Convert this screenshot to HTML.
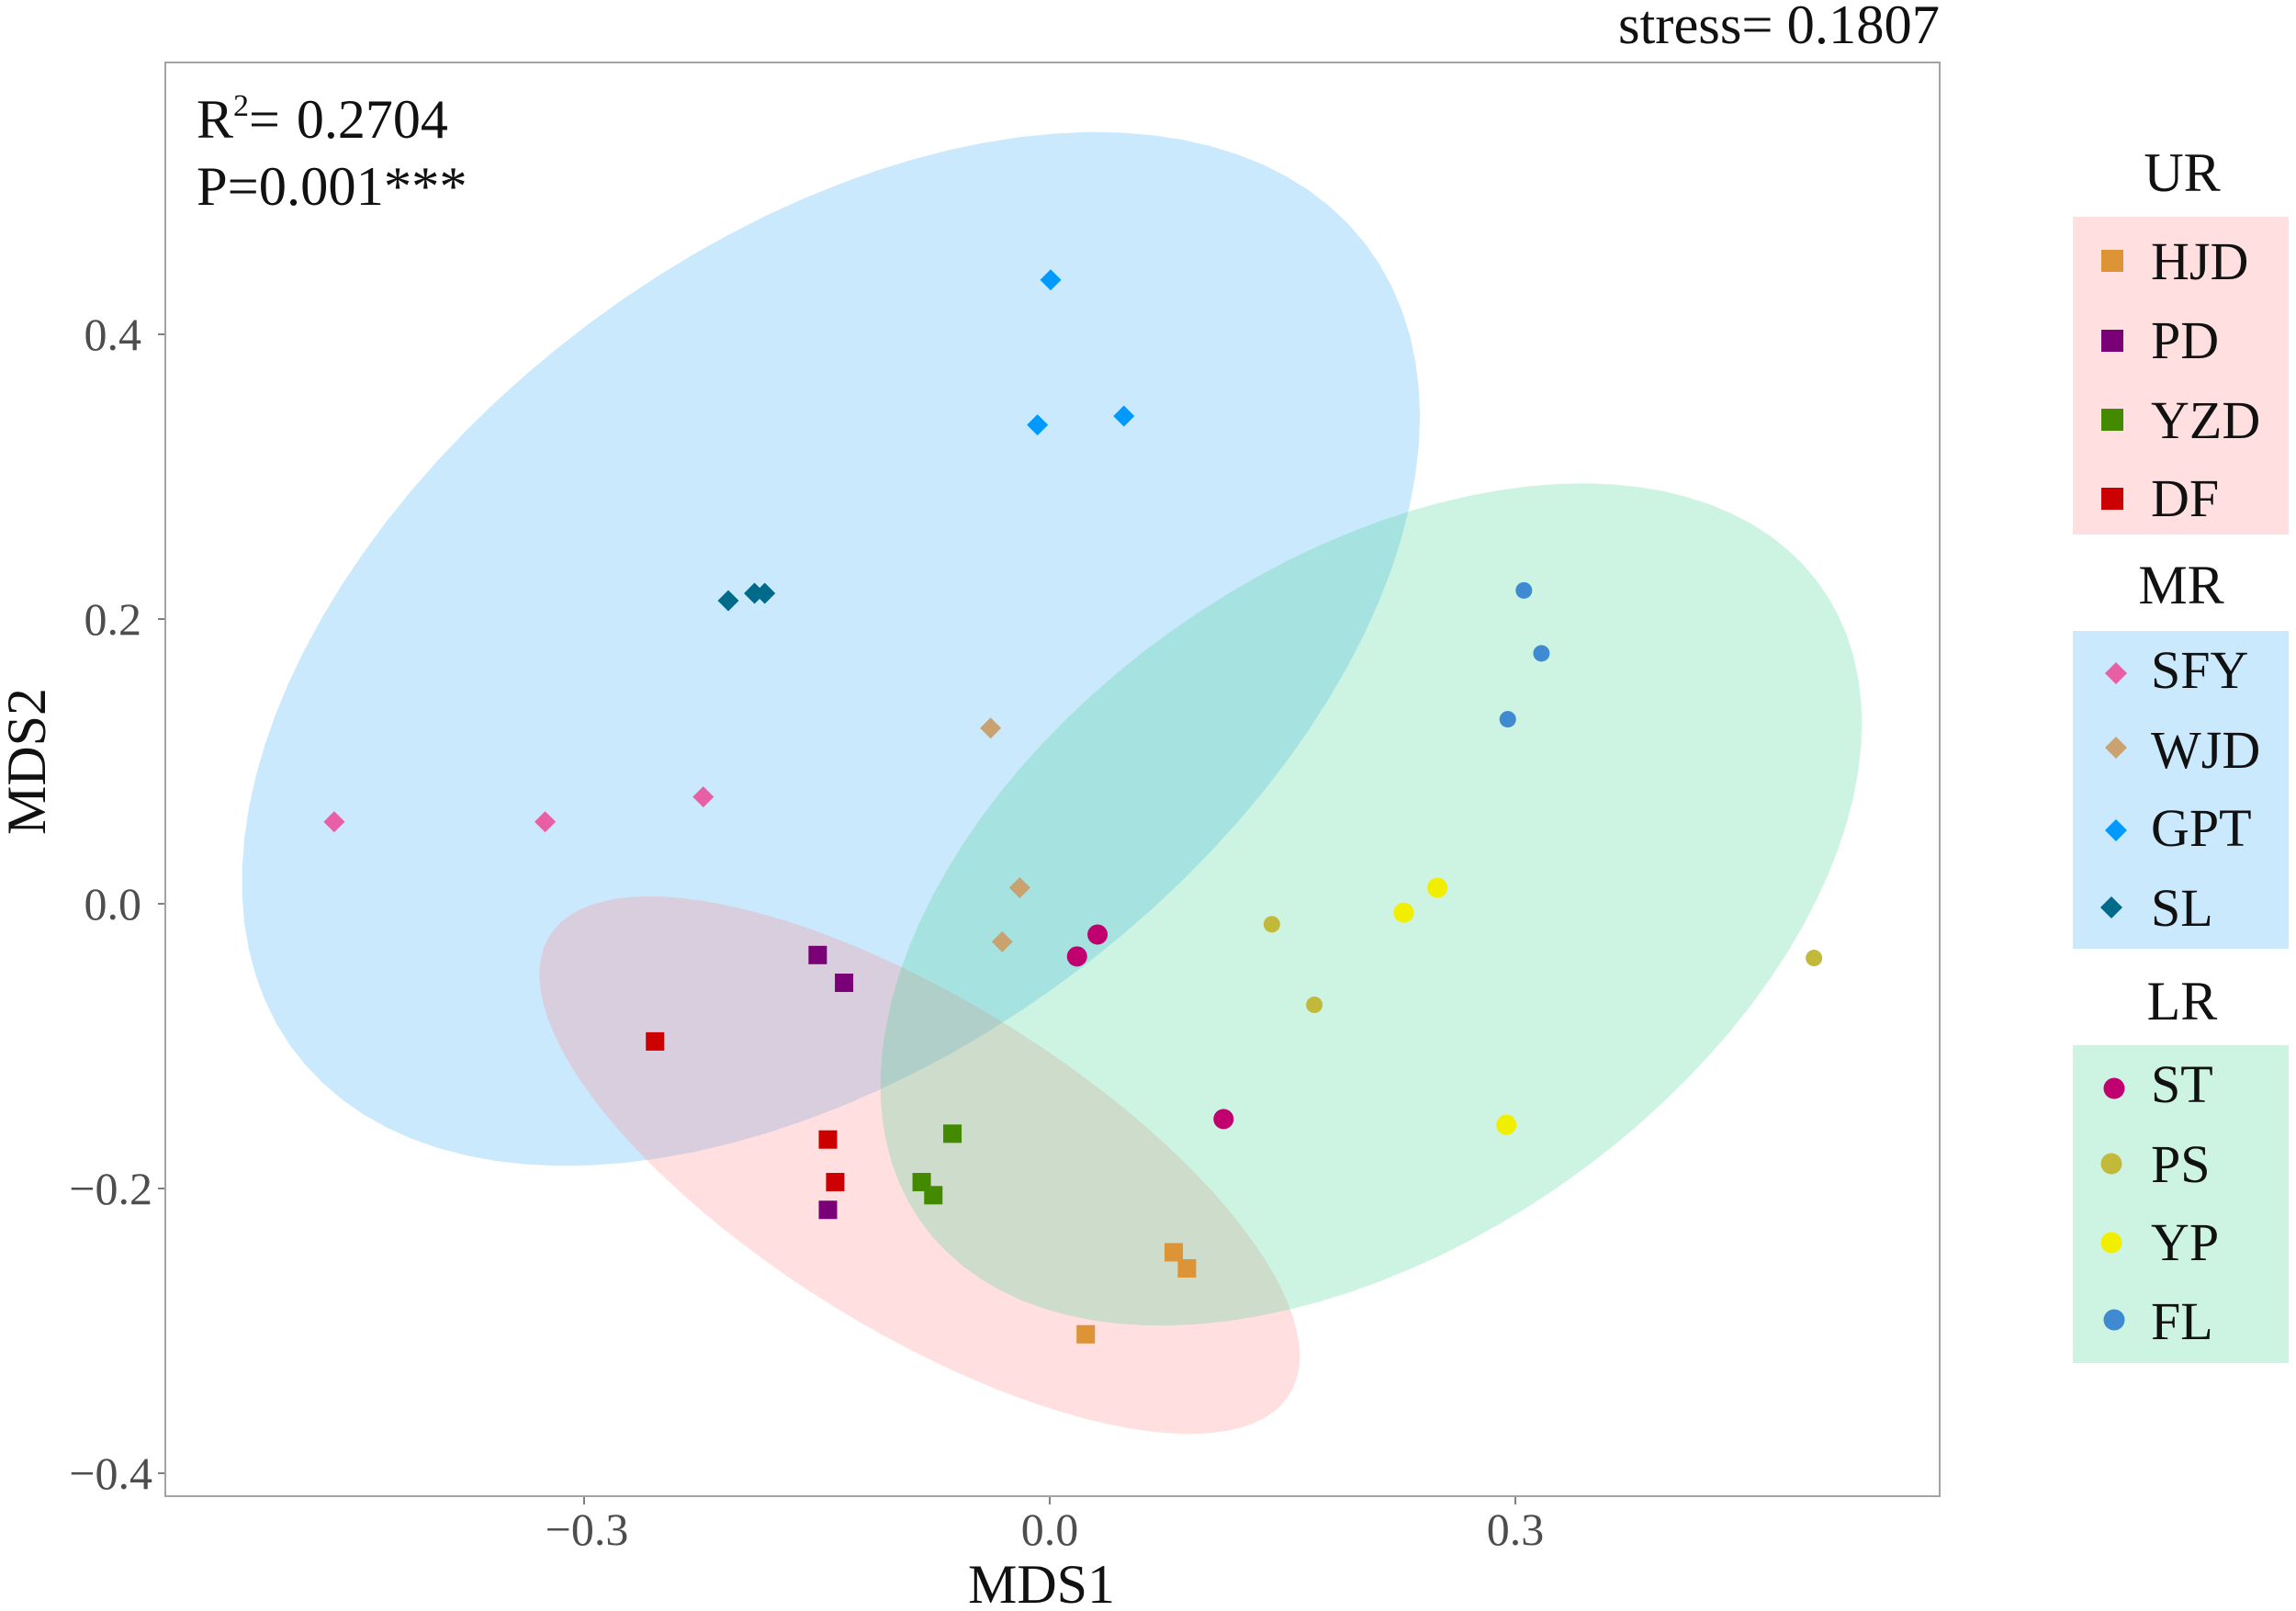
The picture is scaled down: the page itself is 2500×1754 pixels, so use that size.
<!DOCTYPE html>
<html lang="en">
<head>
<meta charset="utf-8">
<title>NMDS ordination chart</title>
<style>
html,body{margin:0;padding:0;background:#fff;}
svg{display:block;font-family:"Liberation Serif",serif;}
</style>
</head>
<body>
<svg id="chart" xmlns="http://www.w3.org/2000/svg" width="2500" height="1754" viewBox="0 0 2500 1754">
  <rect x="0" y="0" width="2500" height="1754" fill="#ffffff"/>
  <g id="ellipses"></g>
  <rect x="180" y="68" width="1932" height="1561" fill="none" stroke="#a3a3a3" stroke-width="2"/>
  <g id="ticks"></g>
  <g id="points"></g>

  <text x="2112" y="47" font-size="60.5" text-anchor="end" fill="#111">stress= 0.1807</text>
  <text x="214" y="150" font-size="60" fill="#111">R<tspan font-size="34" dy="-24">2</tspan><tspan dy="24">=</tspan><tspan dx="3"> 0.2704</tspan></text>
  <text x="214" y="223" font-size="60.5" fill="#111">P=0.001***</text>
  <text x="1134" y="1745" font-size="60" text-anchor="middle" fill="#111">MDS1</text>
  <text transform="translate(49,829) rotate(-90)" font-size="60" text-anchor="middle" fill="#111">MDS2</text>

  <g font-size="58" fill="#111">
    <text x="2376" y="208" text-anchor="middle" font-size="60">UR</text>
    <rect x="2257" y="236" width="235" height="346" fill="#ffdfe0"/>
    <rect x="2288" y="272" width="24" height="24" fill="#dc9436"/>
    <text x="2342" y="304">HJD</text>
    <rect x="2288" y="359" width="24" height="24" fill="#7a0077"/>
    <text x="2342" y="390">PD</text>
    <rect x="2288" y="445" width="24" height="24" fill="#448a00"/>
    <text x="2342" y="477">YZD</text>
    <rect x="2288" y="531" width="24" height="24" fill="#cc0000"/>
    <text x="2342" y="562">DF</text>

    <text x="2375" y="657" text-anchor="middle" font-size="60">MR</text>
    <rect x="2257" y="687" width="235" height="346" fill="#cbe9fd"/>
    <polygon points="2292,733 2304,721 2316,733 2304,745" fill="#e85fa5"/>
    <text x="2342" y="749">SFY</text>
    <polygon points="2292,814 2304,802 2316,814 2304,826" fill="#c9a26f"/>
    <text x="2342" y="836">WJD</text>
    <polygon points="2292,904 2304,892 2316,904 2304,916" fill="#0099ff"/>
    <text x="2342" y="921">GPT</text>
    <polygon points="2287,988 2299,976 2311,988 2299,1000" fill="#006a8a"/>
    <text x="2342" y="1008">SL</text>

    <text x="2376" y="1110" text-anchor="middle" font-size="60">LR</text>
    <rect x="2257" y="1138" width="235" height="346" fill="#cdf4e2"/>
    <circle cx="2302" cy="1185" r="11.5" fill="#c0006f"/>
    <text x="2342" y="1200">ST</text>
    <circle cx="2299" cy="1267" r="11.5" fill="#c2b93a"/>
    <text x="2342" y="1287">PS</text>
    <circle cx="2299" cy="1353" r="11.5" fill="#f2ee00"/>
    <text x="2342" y="1372">YP</text>
    <circle cx="2302" cy="1437" r="11.5" fill="#3f8ad0"/>
    <text x="2342" y="1458">FL</text>
  </g>
</svg>
<script>
// Axis tick values and labels
const xTickValues = [-0.3, 0.0, 0.3];
const xTickLabels = ['\u22120.3', '0.0', '0.3'];
const yTickValues = [0.4, 0.2, 0.0, -0.2, -0.4];
const yTickLabels = ['0.4', '0.2', '0.0', '\u22120.2', '\u22120.4'];

// Group ellipses, in data units: centre, half-extent on each axis, correlation
const ellipseNames = ['mr', 'ur', 'lr'];
const ellipseCentreX = [-0.141, -0.0839, 0.2071];
const ellipseCentreY = [0.179, -0.1836, -0.0005];
const ellipseExtentX = [0.3795, 0.245, 0.3162];
const ellipseExtentY = [0.3631, 0.1888, 0.2958];
const ellipseCorrelation = [0.45, -0.71, 0.43];

// Sample coordinates (MDS1, MDS2) per site
const hjdX = [0.0799, 0.0884, 0.0232];
const hjdY = [-0.2448, -0.2561, -0.3024];
const pdX = [-0.1495, -0.1325, -0.1429];
const pdY = [-0.036, -0.0555, -0.215];
const yzdX = [-0.0627, -0.0825, -0.075];
const yzdY = [-0.1615, -0.1955, -0.2047];
const dfX = [-0.2543, -0.1429, -0.1382];
const dfY = [-0.0967, -0.1656, -0.1955];
const sfyX = [-0.461, -0.3251, -0.2232];
const sfyY = [0.0576, 0.0576, 0.0751];
const wjdX = [-0.0381, -0.0193, -0.0306];
const wjdY = [0.1234, 0.0113, -0.0267];
const gptX = [0.0006, -0.0079, 0.0478];
const gptY = [0.4382, 0.3364, 0.3426];
const slX = [-0.2071, -0.1902, -0.1836];
const slY = [0.2129, 0.2181, 0.2181];
const stX = [0.0308, 0.0176, 0.112];
const stY = [-0.0216, -0.037, -0.1512];
const psX = [0.1431, 0.1705, 0.4924];
const psY = [-0.0144, -0.071, -0.0381];
const ypX = [0.2281, 0.2498, 0.2942];
const ypY = [-0.0062, 0.0113, -0.1553];
const flX = [0.3055, 0.3168, 0.2951];
const flY = [0.2201, 0.1759, 0.1296];

const NS = 'http://www.w3.org/2000/svg';
const scaleX = v => 1143 + v * 1690;
const scaleY = v => 984 - v * 1550;

const ellipseFills = {mr: 'rgba(47,167,247,0.25)', ur: 'rgba(255,128,131,0.25)', lr: 'rgba(55,211,139,0.25)'};
const ellipseLayer = document.getElementById('ellipses');
ellipseNames.forEach((name, i) => {
  const pts = [];
  const segments = 101;
  const r = ellipseCorrelation[i];
  for (let k = 0; k < segments; k++) {
    const t = 2 * Math.PI * k / segments;
    const dx = ellipseExtentX[i] * Math.cos(t);
    const dy = ellipseExtentY[i] * (r * Math.cos(t) + Math.sqrt(1 - r * r) * Math.sin(t));
    pts.push(scaleX(ellipseCentreX[i] + dx).toFixed(1) + ',' + scaleY(ellipseCentreY[i] + dy).toFixed(1));
  }
  const el = document.createElementNS(NS, 'polygon');
  
  
  el.setAttribute('points', pts.join(' '));
  el.setAttribute('fill', ellipseFills[name]);
  ellipseLayer.appendChild(el);
});

const tickLayer = document.getElementById('ticks');
xTickValues.forEach((v, i) => {
  const x = scaleX(v);
  const tick = document.createElementNS(NS, 'line');
  
  
  tick.setAttribute('x1', x);
  tick.setAttribute('x2', x);
  tick.setAttribute('y1', 1630);
  tick.setAttribute('y2', 1638);
  tick.setAttribute('stroke', '#555');
  tick.setAttribute('stroke-width', '1.5');
  tickLayer.appendChild(tick);
  const label = document.createElementNS(NS, 'text');
  
  
  label.setAttribute('x', x + (v < 0 ? 3 : 0));
  label.setAttribute('y', 1682);
  label.setAttribute('font-size', '50');
  label.setAttribute('text-anchor', 'middle');
  label.setAttribute('fill', '#4d4d4d');
  label.textContent = xTickLabels[i];
  tickLayer.appendChild(label);
});
yTickValues.forEach((v, i) => {
  const y = scaleY(v);
  const tick = document.createElementNS(NS, 'line');
  
  
  tick.setAttribute('x1', 172);
  tick.setAttribute('x2', 179);
  tick.setAttribute('y1', y);
  tick.setAttribute('y2', y);
  tick.setAttribute('stroke', '#555');
  tick.setAttribute('stroke-width', '1.5');
  tickLayer.appendChild(tick);
  const label = document.createElementNS(NS, 'text');
  
  
  label.setAttribute('x', v < 0 ? 166 : 154);
  label.setAttribute('y', y + 17);
  label.setAttribute('font-size', '50');
  label.setAttribute('text-anchor', 'end');
  label.setAttribute('fill', '#4d4d4d');
  label.textContent = yTickLabels[i];
  tickLayer.appendChild(label);
});

const series = [
  ['hjd', hjdX, hjdY, 'square', '#dc9436', 10],
  ['pd', pdX, pdY, 'square', '#7a0077', 10],
  ['yzd', yzdX, yzdY, 'square', '#448a00', 10],
  ['df', dfX, dfY, 'square', '#cc0000', 10],
  ['sfy', sfyX, sfyY, 'diamond', '#e85fa5', 11.5],
  ['wjd', wjdX, wjdY, 'diamond', '#c9a26f', 11.5],
  ['gpt', gptX, gptY, 'diamond', '#0099ff', 11.5],
  ['sl', slX, slY, 'diamond', '#006a8a', 11.5],
  ['st', stX, stY, 'circle', '#c0006f', 11],
  ['ps', psX, psY, 'circle', '#c2b93a', 9],
  ['yp', ypX, ypY, 'circle', '#f2ee00', 11],
  ['fl', flX, flY, 'circle', '#3f8ad0', 9]
];
const pointLayer = document.getElementById('points');
series.forEach(([key, xs, ys, shape, color, size]) => {
  xs.forEach((xv, i) => {
    const cx = scaleX(xv);
    const cy = scaleY(ys[i]);
    let el;
    if (shape === 'square') {
      el = document.createElementNS(NS, 'rect');
      el.setAttribute('x', cx - size);
      el.setAttribute('y', cy - size);
      el.setAttribute('width', size * 2);
      el.setAttribute('height', size * 2);
    } else if (shape === 'diamond') {
      el = document.createElementNS(NS, 'polygon');
      el.setAttribute('points', [[cx - size, cy], [cx, cy - size], [cx + size, cy], [cx, cy + size]].join(' '));
    } else {
      el = document.createElementNS(NS, 'circle');
      el.setAttribute('cx', cx);
      el.setAttribute('cy', cy);
      el.setAttribute('r', size);
    }
    
    
    el.setAttribute('fill', color);
    pointLayer.appendChild(el);
  });
});
</script>
</body>
</html>
